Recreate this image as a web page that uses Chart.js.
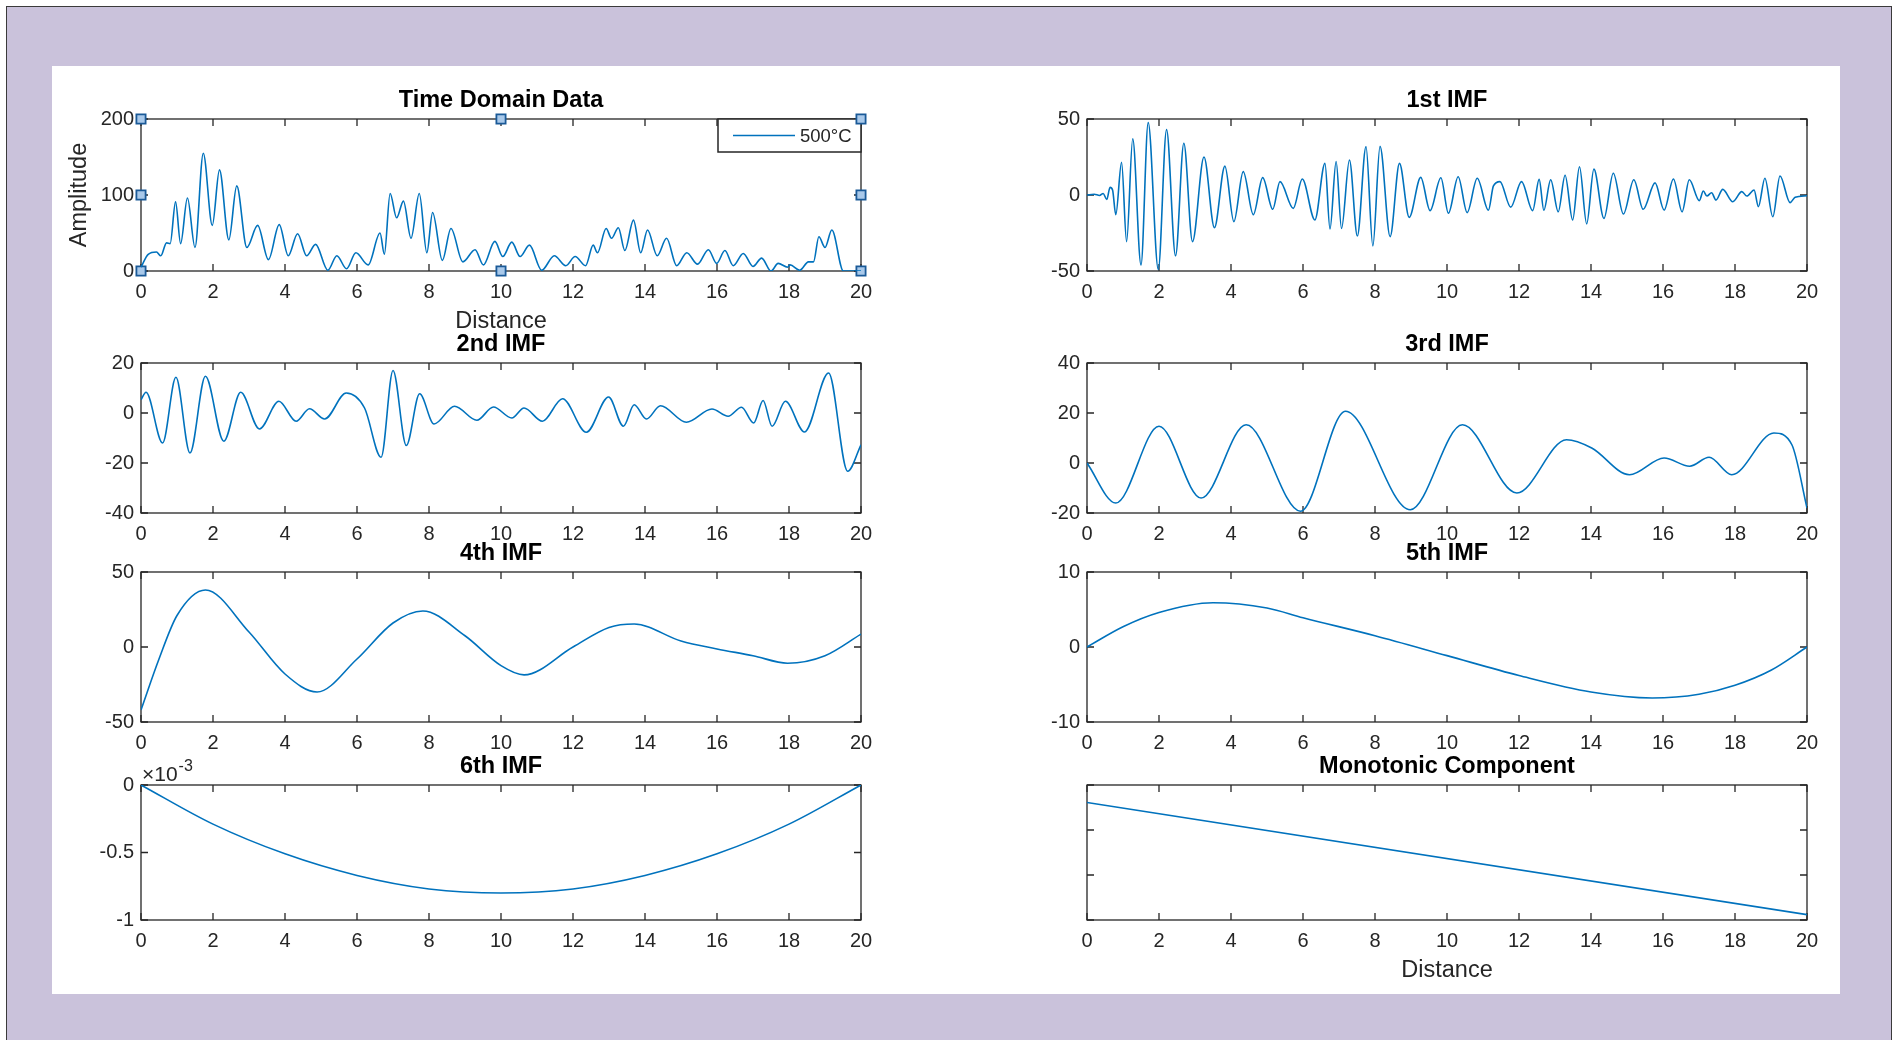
<!DOCTYPE html>
<html>
<head>
<meta charset="utf-8">
<script src="https://cdn.jsdelivr.net/npm/chart.js@4.4.1/dist/chart.umd.min.js"></script>
<style>
  html, body { margin: 0; padding: 0; background: #fff; }
  body { width: 1904px; height: 1040px; position: relative; overflow: hidden; }
  #frame { position: absolute; left: 6px; top: 6px; width: 1886px; height: 1100px; background: #cac2db; border: 1.5px solid #3a3a3a; box-sizing: border-box; }
  #panel { position: absolute; left: 52px; top: 66px; width: 1788px; height: 928px; background: #fff; }
  canvas { position: absolute; }
</style>
</head>
<body>
<div id="frame"></div>
<div id="panel"></div>
<script>
// time domain signal (distance vs amplitude)
var timeX = [0,0.2,0.43,0.55,0.71,0.81,0.96,1.1,1.29,1.5,1.73,1.98,2.18,2.44,2.66,2.94,3.24,3.54,3.84,4.09,4.35,4.6,4.85,5.19,5.44,5.71,5.97,6.31,6.64,6.76,6.92,7.1,7.29,7.5,7.73,7.94,8.1,8.37,8.61,8.94,9.28,9.51,9.83,10.05,10.3,10.53,10.79,11.13,11.48,11.8,12.06,12.35,12.56,12.68,12.92,13.07,13.26,13.44,13.68,13.88,14.07,14.34,14.6,14.88,15.16,15.46,15.76,15.99,16.22,16.45,16.73,17.0,17.24,17.5,17.7,17.96,18.03,18.3,18.54,18.68,18.83,19.0,19.19,19.51,20];
var timeY = [5,22,25,20,37,36,91,36,96,31,155,60,133,41,112,31,60,15,61,20,49,20,35,1,20,3,24,8,50,22,102,70,92,43,102,24,77,14,56,12,28,8,39,19,38,19,34,1,20,7,19,7,34,24,56,43,57,27,67,24,54,20,43,7,24,9,28,10,27,7,23,6,17,0,10,5,8,1,12,12,45,31,54,0,0];

// selection handles shown on the first axes
var handleX = [0,10,20,0,20,0,10,20];
var handleY = [200,200,200,100,100,0,0,0];

var imf1X = [0,0.2,0.35,0.45,0.55,0.64,0.71,0.8,0.96,1.1,1.27,1.5,1.7,1.98,2.21,2.46,2.69,2.93,3.25,3.54,3.83,4.08,4.34,4.62,4.88,5.16,5.36,5.73,5.98,6.33,6.61,6.75,6.92,7.07,7.29,7.51,7.75,7.94,8.14,8.42,8.68,8.95,9.27,9.53,9.83,10.04,10.31,10.56,10.84,11.15,11.29,11.47,11.77,12.07,12.38,12.56,12.69,12.88,13.09,13.28,13.49,13.68,13.88,14.08,14.36,14.62,14.9,15.19,15.45,15.78,16.03,16.29,16.53,16.73,17.01,17.12,17.22,17.35,17.47,17.66,17.94,18.19,18.33,18.53,18.65,18.83,19.05,19.25,19.53,19.67,20];
var imf1Y = [0,0.5,-0.3,1,-3,5,3.3,-13,21.5,-30.7,37,-46,47.6,-49,43,-40,34,-30.7,25,-21.5,19,-17.5,15.4,-13,11.4,-9.4,8.8,-8.8,10.5,-16.4,20.8,-22.4,22,-22,23,-27,31.8,-33.5,32,-27.4,20.8,-14.7,11.6,-10.3,11.3,-12,12,-11.6,11,-10,6,8.8,-8,8.8,-10.3,10.3,-10,10,-11,13,-16.4,18.6,-19,17,-15.4,14.3,-12.5,10,-9.4,8,-9.9,10.5,-11,10,-3.7,2.6,-0.7,1.5,-3.3,3.7,-4.4,2.2,-0.7,3.3,-7.7,11,-14.3,12.5,-5,-1.5,-0.5];

var imf2X = [0,0.14,0.6,0.97,1.36,1.79,2.3,2.77,3.29,3.83,4.31,4.68,5.1,5.7,6.21,6.67,7.0,7.37,7.74,8.14,8.71,9.33,9.79,10.3,10.64,11.15,11.71,12.37,12.99,13.4,13.7,14.04,14.43,15.15,15.86,16.31,16.68,17.02,17.28,17.53,17.9,18.43,19.1,19.63,20];
var imf2Y = [5.3,8.3,-12,14.3,-16,14.7,-11.3,8.3,-6.4,4.7,-3.3,1.7,-2.4,8,2,-17.7,17,-13,7.7,-4.4,2.7,-2.9,2.4,-2,2,-3.3,5.7,-7.7,6.4,-5.3,3.3,-2.4,2.9,-3.7,1.6,-1.3,2.3,-4,5,-5.3,4.7,-7.6,16,-23.3,-12.7];

var imf3X = [0,0.8,2.0,3.17,4.42,5.93,7.18,8.98,10.43,11.94,13.32,14.02,15.07,16.03,16.74,17.28,17.91,19.08,19.58,20];
var imf3Y = [0,-16,14.7,-14,15.3,-19.3,20.7,-18.7,15.3,-12,9.3,6,-4.7,2,-1.3,2.3,-4.7,12,7.3,-18];

var imf4X = [0,0.5,1.0,1.79,3.0,4.0,4.89,6.0,7.0,7.83,9.0,10.0,10.64,12.0,13.0,13.7,15.0,16.0,17.0,17.96,19.0,20];
var imf4Y = [-42,-8,21,38,10,-18,-30,-8,16,24,7.5,-12.4,-18.6,0,13,15.3,4,-1.3,-5.8,-10.8,-5.8,8.6];

var imf5X = [0,1,2,3.5,5,6,8,10,12,14,15.7,17,18,19,20];
var imf5Y = [0,2.7,4.6,5.9,5.2,3.9,1.5,-1.15,-3.8,-6.0,-6.8,-6.3,-5.1,-3.1,0];

var imf6X = [0,2,4,6,8,10,12,14,16,18,20];
var imf6Y = [0,-0.00029,-0.00051,-0.00067,-0.00077,-0.0008,-0.00077,-0.00067,-0.00051,-0.00029,0];

var monoX = [0,20];
var monoY = [2.61,0.12];

var FONT = '"Liberation Sans", Arial, Helvetica, sans-serif';
var INK = '#262626';
var BLUE = '#0072bd';
var TICK = 7;

Chart.defaults.font.family = FONT;
Chart.defaults.color = INK;

function pts(xs, ys) {
  return xs.map(function (x, i) { return { x: x, y: ys[i] }; });
}

// box with inward ticks on all four sides, legend and exponent label
function matlabAxes(cfg) {
  return {
    id: 'matlabAxes',
    beforeDatasetsDraw: function (chart) {
      var a = chart.chartArea, ctx = chart.ctx;
      var xs = chart.scales.x, ys = chart.scales.y;
      ctx.save();
      ctx.strokeStyle = INK;
      ctx.lineWidth = 1.3;
      ctx.beginPath();
      xs.ticks.forEach(function (t) {
        var p = xs.getPixelForValue(t.value);
        ctx.moveTo(p, a.bottom); ctx.lineTo(p, a.bottom - TICK);
        ctx.moveTo(p, a.top); ctx.lineTo(p, a.top + TICK);
      });
      ys.ticks.forEach(function (t) {
        var p = ys.getPixelForValue(t.value);
        ctx.moveTo(a.left, p); ctx.lineTo(a.left + TICK, p);
        ctx.moveTo(a.right, p); ctx.lineTo(a.right - TICK, p);
      });
      ctx.stroke();
      ctx.strokeRect(a.left, a.top, a.width, a.height);

      if (cfg.legend) {
        var ds = chart.data.datasets[0];
        var lw = 143, lh = 33, lx = a.right - lw, ly = a.top;
        ctx.fillStyle = '#fff';
        ctx.fillRect(lx, ly, lw, lh);
        ctx.lineWidth = 1.5;
        ctx.strokeRect(lx, ly, lw, lh);
        ctx.strokeStyle = ds.borderColor;
        ctx.lineWidth = ds.borderWidth;
        ctx.beginPath();
        ctx.moveTo(lx + 15, ly + lh / 2); ctx.lineTo(lx + 77, ly + lh / 2);
        ctx.stroke();
        ctx.fillStyle = INK;
        ctx.font = '18.5px ' + FONT;
        ctx.textBaseline = 'middle';
        ctx.fillText(ds.label, lx + 82, ly + lh / 2 + 1);
      }
      if (cfg.exponent) {
        ctx.fillStyle = INK;
        ctx.textBaseline = 'alphabetic';
        ctx.font = '21px ' + FONT;
        ctx.fillText('\u00d710', a.left + 1, a.top - 4);
        var w = ctx.measureText('\u00d710').width;
        ctx.font = '16px ' + FONT;
        ctx.fillText(cfg.exponent, a.left + 2 + w, a.top - 14);
      }
      ctx.restore();
    }
  };
}

function makePlot(cfg) {
  var b = cfg.box;
  var c = document.createElement('canvas');
  c.width = b.w + 130;
  c.height = b.h + 130;
  c.style.left = (b.x - 100) + 'px';
  c.style.top = (b.y - 60) + 'px';
  document.body.appendChild(c);

  var datasets = [{
    label: cfg.label || cfg.title,
    data: pts(cfg.xs, cfg.ys),
    borderColor: BLUE,
    borderWidth: 1.6,
    pointRadius: 0,
    fill: false,
    cubicInterpolationMode: 'monotone'
  }];
  if (cfg.handles) {
    datasets.push({
      label: 'handles',
      data: pts(handleX, handleY),
      showLine: false,
      pointStyle: 'rect',
      pointRadius: 6.5,
      pointBackgroundColor: '#a9c9ea',
      pointBorderColor: '#1a5a98',
      pointBorderWidth: 1.8,
      clip: false
    });
  }

  new Chart(c.getContext('2d'), {
    type: 'line',
    data: { datasets: datasets },
    options: {
      responsive: false,
      animation: false,
      events: [],
      layout: { padding: { left: 0, top: 27.3, right: 30, bottom: 0 } },
      plugins: {
        legend: { display: false },
        tooltip: { enabled: false },
        title: {
          display: true, fullSize: false, text: cfg.title, color: '#000',
          font: { family: FONT, size: 23.5, weight: 'bold', lineHeight: 1.2 },
          padding: { top: 0, bottom: 4.5 }
        }
      },
      scales: {
        x: {
          type: 'linear', min: 0, max: 20,
          border: { display: false },
          grid: { display: false, drawTicks: false },
          ticks: { stepSize: 2, padding: 9, autoSkip: false, maxRotation: 0, color: INK, font: { size: 20 } },
          title: { display: !!cfg.xlabel, text: cfg.xlabel || '', color: INK, font: { size: 23.5, lineHeight: 1.2 }, padding: { top: 0, bottom: 5.5 } },
          afterFit: function (s) { s.height = 70; }
        },
        y: {
          type: 'linear', min: cfg.ymin, max: cfg.ymax,
          border: { display: false },
          grid: { display: false, drawTicks: false },
          ticks: {
            stepSize: cfg.ystep, padding: 7, color: INK, font: { size: 20 },
            callback: cfg.ytick || function (v) { return String(v); }
          },
          title: { display: !!cfg.ylabel, text: cfg.ylabel || '', color: INK, font: { size: 23.5, lineHeight: 1.2 }, padding: { top: 24, bottom: 0 } },
          afterFit: function (s) { s.width = 100; }
        }
      }
    },
    plugins: [matlabAxes(cfg)]
  });
}

makePlot({ title: 'Time Domain Data', label: '500\u00b0C', xs: timeX, ys: timeY, box: { x: 141, y: 119, w: 720, h: 152 },
  ymin: 0, ymax: 200, ystep: 100, xlabel: 'Distance', ylabel: 'Amplitude', legend: true, handles: true });
makePlot({ title: '1st IMF', xs: imf1X, ys: imf1Y, box: { x: 1087, y: 119, w: 720, h: 152 }, ymin: -50, ymax: 50, ystep: 50 });
makePlot({ title: '2nd IMF', xs: imf2X, ys: imf2Y, box: { x: 141, y: 363, w: 720, h: 150 }, ymin: -40, ymax: 20, ystep: 20 });
makePlot({ title: '3rd IMF', xs: imf3X, ys: imf3Y, box: { x: 1087, y: 363, w: 720, h: 150 }, ymin: -20, ymax: 40, ystep: 20 });
makePlot({ title: '4th IMF', xs: imf4X, ys: imf4Y, box: { x: 141, y: 572, w: 720, h: 150 }, ymin: -50, ymax: 50, ystep: 50 });
makePlot({ title: '5th IMF', xs: imf5X, ys: imf5Y, box: { x: 1087, y: 572, w: 720, h: 150 }, ymin: -10, ymax: 10, ystep: 10 });
makePlot({ title: '6th IMF', xs: imf6X, ys: imf6Y, box: { x: 141, y: 785, w: 720, h: 135 }, ymin: -0.001, ymax: 0, ystep: 0.0005,
  exponent: '-3', ytick: function (v) { return String(Math.round(v * 1e4) / 10); } });
makePlot({ title: 'Monotonic Component', xs: monoX, ys: monoY, box: { x: 1087, y: 785, w: 720, h: 135 }, ymin: 0, ymax: 3, ystep: 1,
  xlabel: 'Distance', ytick: function () { return ''; } });
</script>
</body>
</html>
